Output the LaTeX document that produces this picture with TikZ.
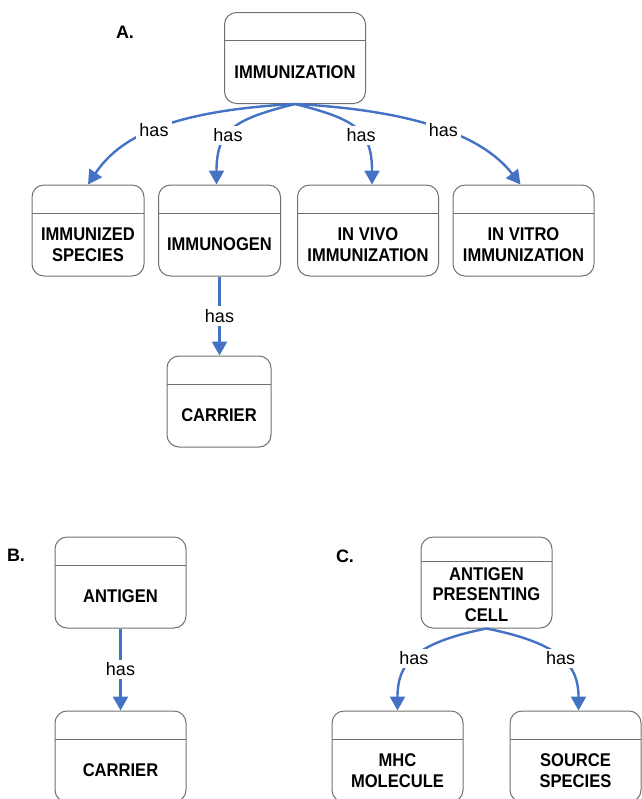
\documentclass[tikz,border=0pt]{standalone}
\usepackage{fontspec}
\setmainfont{Liberation Sans}
\newfontfamily\boxfont{Liberation Sans}[FakeStretch=0.9]
\usepackage{xcolor}
\usetikzlibrary{arrows.meta}
\definecolor{linkblue}{RGB}{68,114,196}
\definecolor{boxgray}{RGB}{112,112,112}
\tikzset{
  entity/.style={draw=boxgray, line width=0.5pt, rounded corners=6pt, minimum height=45.5pt, inner sep=0pt,
    path picture={\draw[boxgray, line width=0.5pt] ([yshift=-#1]path picture bounding box.north west) -- ([yshift=-#1]path picture bounding box.north east);}},
  entity/.default=14pt,
  etext/.style={font=\boxfont\fontsize{9.2}{10.4}\selectfont\bfseries, align=center, inner sep=0pt},
  link/.style={draw=linkblue, line width=1.2pt, -{Triangle[length=7pt,width=7.5pt]}},
  has/.style={fill=white, font=\fontsize{9}{10}\selectfont, inner sep=1.5pt},
  panel/.style={font=\fontsize{9}{10}\selectfont\bfseries}
}

\begin{document}
\begin{tikzpicture}[x=0.5pt, y=-0.5pt]
          \useasboundingbox (0, 0) rectangle (642, 799);

          % A.
          \node [panel] (pa) at (125, 32) {A.};
          \node [entity, minimum width=70.5pt] (imm) at (295, 58) {};
          \node [etext] (imm-t) at ([yshift=-7pt]imm.center) {IMMUNIZATION};

          \node [entity, minimum width=56pt] (spec) at (88, 230.5) {};
          \node [etext] (spec-t) at ([yshift=-7pt]spec.center) {IMMUNIZED\\SPECIES};
          \node [entity, minimum width=61pt] (gen) at (219.5, 230.5) {};
          \node [etext] (gen-t) at ([yshift=-7pt]gen.center) {IMMUNOGEN};
          \node [entity, minimum width=70.5pt] (vivo) at (368, 230.5) {};
          \node [etext] (vivo-t) at ([yshift=-7pt]vivo.center) {IN VIVO\\IMMUNIZATION};
          \node [entity, minimum width=70.5pt] (vitro) at (523.5, 230.5) {};
          \node [etext] (vitro-t) at ([yshift=-7pt]vitro.center) {IN VITRO\\IMMUNIZATION};

          \node [entity, minimum width=52pt] (car) at (219, 401.5) {};
          \node [etext] (car-t) at ([yshift=-7pt]car.center) {CARRIER};

          \draw [link] (imm.south) .. controls +(-130, 7) and +(30, -45) .. (spec.north)
                node [has, pos=0.5] {has};
          \draw [link] (imm.south) .. controls +(-60, 15) and +(0, -55) .. ([xshift=-1.5pt]gen.north)
                node [has, pos=0.58] {has};
          \draw [link] (imm.south) .. controls +(60, 15) and +(0, -55) .. ([xshift=2pt]vivo.north)
                node [has, pos=0.58] {has};
          \draw [link] (imm.south) .. controls +(130, 7) and +(-35, -45) .. ([xshift=-1.5pt]vitro.north)
                node [has, pos=0.5] {has};
          \draw [link] (gen.south) -- (gen.south |- car.north)
                node [has, midway] {has};

          % B.
          \node [panel] (pb) at (16, 555) {B.};
          \node [entity, minimum width=65.5pt] (ant) at (120.5, 582.5) {};
          \node [etext] (ant-t) at ([yshift=-7pt]ant.center) {ANTIGEN};
          \node [entity, minimum width=65.5pt] (car2) at (120.5, 756.5) {};
          \node [etext] (car2-t) at ([yshift=-7pt]car2.center) {CARRIER};
          \draw [link] (ant.south) -- (car2.north)
                node [has, midway] {has};

          % C.
          \node [panel] (pc) at (345, 556) {C.};
          \node [entity=12pt, minimum width=65.5pt] (apc) at (486.5, 582.5) {};
          \node [etext] (apc-t) at ([yshift=-6pt]apc.center) {ANTIGEN\\PRESENTING\\CELL};
          \node [entity, minimum width=65.5pt] (mhc) at (397.5, 756.5) {};
          \node [etext] (mhc-t) at ([yshift=-7pt]mhc.center) {MHC\\MOLECULE};
          \node [entity, minimum width=65.5pt] (src) at (575.5, 756.5) {};
          \node [etext] (src-t) at ([yshift=-7pt]src.center) {SOURCE\\SPECIES};

          \draw [link] (apc.south) .. controls +(-75, 15) and +(0, -45) .. (mhc.north)
                node [has, pos=0.5] {has};
          \draw [link] (apc.south) .. controls +(75, 15) and +(0, -45) .. ([xshift=1.5pt]src.north)
                node [has, pos=0.5] {has};
        \end{tikzpicture}
\end{document}
